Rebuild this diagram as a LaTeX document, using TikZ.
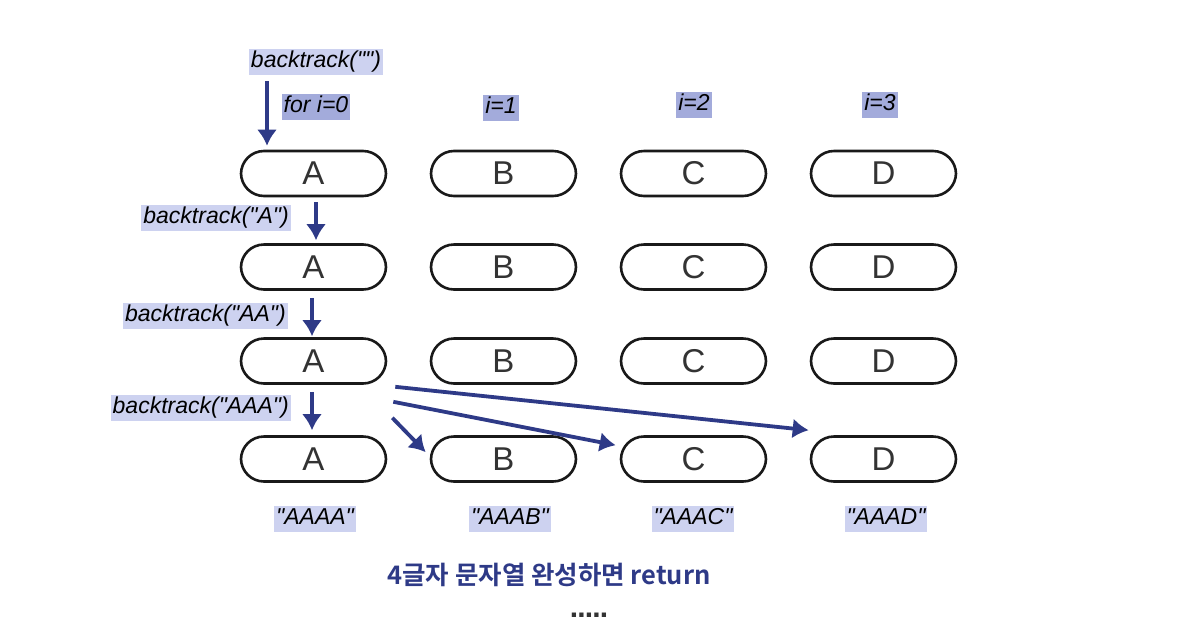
\documentclass[tikz,border=0pt]{standalone}
\usepackage{fontspec}
\setmainfont{Liberation Sans}[Ligatures=TeXOff]
\newfontfamily\krfont{Noto Sans CJK KR Bold}
\usetikzlibrary{arrows.meta,positioning,calc}
\definecolor{flowblue}{HTML}{2E3A87}
\definecolor{hilite}{HTML}{CDD2F0}
\definecolor{hilitedark}{HTML}{A3ABDB}
\definecolor{lettergray}{HTML}{333333}
\newcommand{\qt}{\symbol{34}}
\newcommand{\dt}{.\kern-0.8pt}

\begin{document}
\begin{tikzpicture}[
		x=1pt, y=-1pt,
		>={Latex[length=16pt,width=20pt]},
		pill/.style={draw=black!90, line width=2.6pt, rounded corners=23pt,
			minimum width=145pt, minimum height=45pt, inner sep=0pt,
			font=\fontsize{33}{33}\selectfont, text=lettergray},
		call/.style={fill=hilite, inner xsep=2pt, inner ysep=2pt,
			text height=16.5pt, text depth=5pt,
			font=\fontsize{23}{23}\selectfont\itshape},
		idx/.style={call, fill=hilitedark},
		flow/.style={->, line width=3.8pt, draw=flowblue, fill=flowblue}
		]
		\useasboundingbox (0,0) rectangle (1200,630);
		
		% --------------------------------------------------
		% Rows of letters
		% --------------------------------------------------
		\node[pill] (A1) at (313.5,173.5) {A};
		\node[pill] (B1) at (503.5,173.5) {B};
		\node[pill] (C1) at (693.5,173.5) {C};
		\node[pill] (D1) at (883.5,173.5) {D};
		
		\node[pill] (A2) at (313.5,267) {A};
		\node[pill] (B2) at (503.5,267) {B};
		\node[pill] (C2) at (693.5,267) {C};
		\node[pill] (D2) at (883.5,267) {D};
		
		\node[pill] (A3) at (313.5,361) {A};
		\node[pill] (B3) at (503.5,361) {B};
		\node[pill] (C3) at (693.5,361) {C};
		\node[pill] (D3) at (883.5,361) {D};
		
		\node[pill] (A4) at (313.5,459) {A};
		\node[pill] (B4) at (503.5,459) {B};
		\node[pill] (C4) at (693.5,459) {C};
		\node[pill] (D4) at (883.5,459) {D};
		
		% --------------------------------------------------
		% Calls and loop indices
		% --------------------------------------------------
		\node[call] (bt0) at (316,62) {backtrack(\qt\qt)};
		\node[idx] (i0) at (316,107) {for i=0};
		\node[idx] (i1) at (501,108) {i=1};
		\node[idx] (i2) at (694,105) {i=2};
		\node[idx] (i3) at (880,105) {i=3};
		
		\node[call, anchor=east] (btA) at (291,218) {backtrack(\qt A\qt)};
		\node[call, anchor=east] (btAA) at (288,316) {backtrack(\qt AA\qt)};
		\node[call, anchor=east] (btAAA) at (291,408) {backtrack(\qt AAA\qt)};
		
		% --------------------------------------------------
		% Finished strings
		% --------------------------------------------------
		\node[call] (sA) at (315,519) {\qt AAAA\qt};
		\node[call] (sB) at (510,519) {\qt AAAB\qt};
		\node[call] (sC) at (693,519) {\qt AAAC\qt};
		\node[call] (sD) at (886,519) {\qt AAAD\qt};
		
		\node[font=\krfont\fontsize{25.5}{25.5}\selectfont, text=flowblue] (ret) at (549,575) {4글자 문자열 완성하면 return};
		\node[anchor=base, font=\bfseries\fontsize{30}{30}\selectfont, text=lettergray] (more) at (589,617) {\dt\dt\dt\dt.};
		
		% --------------------------------------------------
		% Arrows
		% --------------------------------------------------
		\draw[flow] ([xshift=-49pt,yshift=-6pt]bt0.south) -- ([xshift=-46.5pt,yshift=4pt]A1.north);
		\draw[flow] ([xshift=2.5pt,yshift=-5pt]A1.south) -- ([xshift=2.5pt,yshift=3pt]A2.north);
		\draw[flow] ([xshift=-1.5pt,yshift=-7pt]A2.south) -- ([xshift=-1.5pt,yshift=1pt]A3.north);
		\draw[flow] ([xshift=-1.5pt,yshift=-7pt]A3.south) -- ([xshift=-1.5pt,yshift=5pt]A4.north);
		
		\draw[flow] ([xshift=8pt,yshift=-2pt]A3.south east) -- ([xshift=-1pt,yshift=5pt]D4.north west);
		\draw[flow] ([xshift=6pt,yshift=-17pt]A3.south east) -- ([xshift=-4pt,yshift=-10pt]C4.north west);
		\draw[flow] ([xshift=5pt,yshift=-33pt]A3.south east) -- ([xshift=-4pt,yshift=-17pt]B4.north west);
		
	\end{tikzpicture}
\end{document}
